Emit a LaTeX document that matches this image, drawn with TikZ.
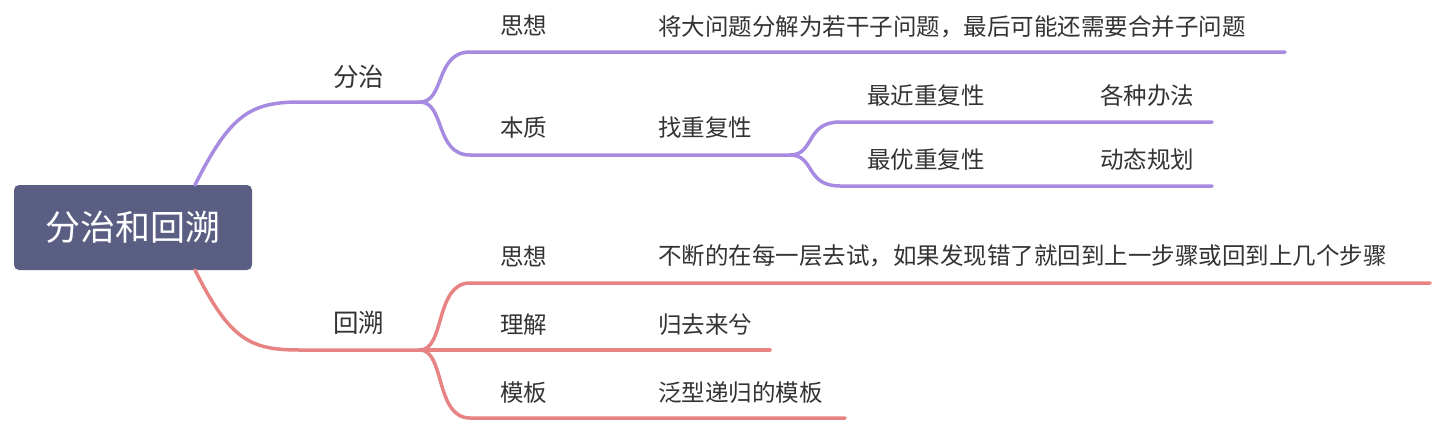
\documentclass[tikz,border=0pt]{standalone}
\usepackage{fontspec}
\setmainfont{Noto Sans CJK SC}
\usetikzlibrary{positioning}
\definecolor{rootfill}{HTML}{5A5E83}
\definecolor{purp}{HTML}{A78BE0}
\definecolor{redb}{HTML}{E88383}
\definecolor{txt}{HTML}{333333}
\begin{document}
\begin{tikzpicture}[x=1pt,y=-1pt,
    label/.style={anchor=west,inner sep=0pt,text=txt,font=\fontsize{23.5}{28}\selectfont},
    branch/.style={line width=3.5pt,line cap=round}
]
    \useasboundingbox (0,0) rectangle (1444,424);
    % root
    \node[fill=rootfill,rounded corners=5pt,minimum width=238pt,minimum height=85pt,
          text=white,font=\fontsize{35}{40}\selectfont] (root) at (133,227.5) {分治和回溯};
    % coordinates for the branches
    \coordinate (rt) at (195,185);
    \coordinate (rb) at (195,270);
    \coordinate (fz0) at (300,102); \coordinate (fz1) at (420,102);
    \coordinate (hs0) at (300,350); \coordinate (hs1) at (420,350);
    \coordinate (sx0) at (470,52);  \coordinate (sx1) at (1285,52);
    \coordinate (bz0) at (470,155); \coordinate (bz1) at (790,155);
    \coordinate (zj0) at (840,122); \coordinate (zj1) at (1212,122);
    \coordinate (zy0) at (840,186); \coordinate (zy1) at (1212,186);
    \coordinate (hx0) at (470,283); \coordinate (hx1) at (1430,283);
    \coordinate (lj0) at (470,350); \coordinate (lj1) at (770,350);
    \coordinate (mb0) at (470,418); \coordinate (mb1) at (845,418);
    % purple branch
    \begin{scope}[draw=purp]
        \draw[branch] (rt) .. controls (230,115) and (250,102) .. (fz0) -- (fz1);
        \draw[branch] (fz1) .. controls (445,102) and (435,52) .. (sx0) -- (sx1);
        \draw[branch] (fz1) .. controls (445,102) and (435,155) .. (bz0) -- (bz1);
        \draw[branch] (bz1) .. controls (815,155) and (805,122) .. (zj0) -- (zj1);
        \draw[branch] (bz1) .. controls (815,155) and (805,186) .. (zy0) -- (zy1);
    \end{scope}
    % red branch
    \begin{scope}[draw=redb]
        \draw[branch] (rb) .. controls (230,340) and (250,350) .. (hs0) -- (hs1);
        \draw[branch] (hs1) .. controls (445,350) and (435,283) .. (hx0) -- (hx1);
        \draw[branch] (hs1) -- (lj0) -- (lj1);
        \draw[branch] (hs1) .. controls (445,350) and (435,418) .. (mb0) -- (mb1);
    \end{scope}
    % labels
    \node[label,font=\fontsize{25.5}{30}\selectfont] (fz) at (333,77) {分治};
    \node[label,font=\fontsize{25.5}{30}\selectfont] (hs) at (333,323) {回溯};
    \node[label] (sx) at (500,25) {思想};
    \node[label] (sxt) at (658,27) {将大问题分解为若干子问题，最后可能还需要合并子问题};
    \node[label] (bz) at (500,128) {本质};
    \node[label] (bzt) at (658,128) {找重复性};
    \node[label] (zj) at (867,96) {最近重复性};
    \node[label] (zjt) at (1100,96) {各种办法};
    \node[label] (zy) at (867,160) {最优重复性};
    \node[label] (zyt) at (1100,160) {动态规划};
    \node[label] (hx) at (500,256) {思想};
    \node[label] (hxt) at (658,256) {不断的在每一层去试，如果发现错了就回到上一步骤或回到上几个步骤};
    \node[label] (lj) at (500,325) {理解};
    \node[label] (ljt) at (658,325) {归去来兮};
    \node[label] (mb) at (500,393) {模板};
    \node[label] (mbt) at (658,393) {泛型递归的模板};
\end{tikzpicture}
\end{document}
